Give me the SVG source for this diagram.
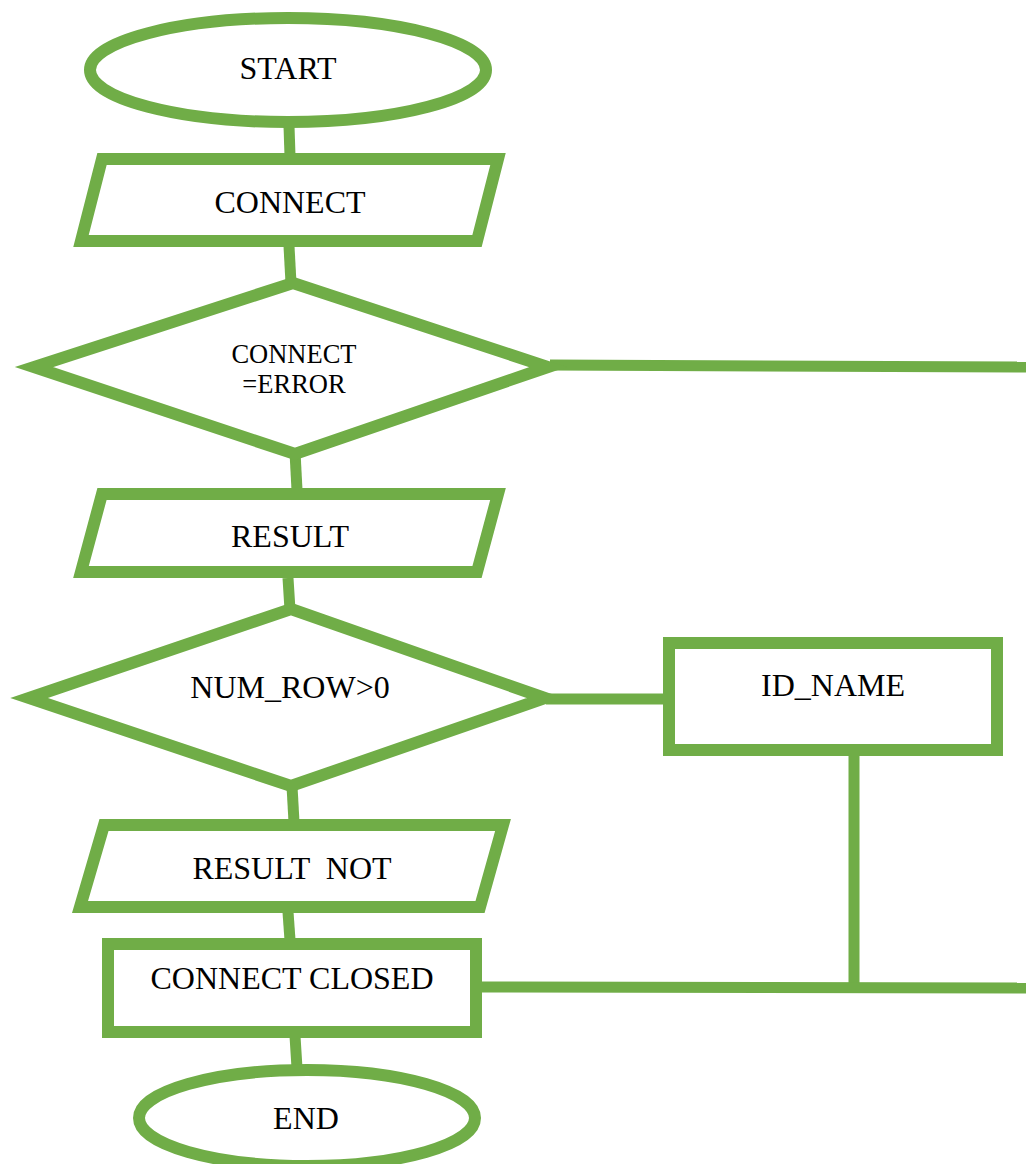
<svg xmlns="http://www.w3.org/2000/svg" width="1026" height="1164" viewBox="0 0 1026 1164">
<style>
.s{fill:#fff;stroke:#70AD47;stroke-width:12;stroke-miterlimit:10}
.c{fill:none;stroke:#70AD47;stroke-width:11}
text{font-family:"Liberation Serif","Times New Roman",serif;font-size:32px;fill:#000;text-anchor:middle}
</style>
<rect width="1026" height="1164" fill="#fff"/>
<g id="connectors">
<line class="c" x1="289" y1="126" x2="290" y2="156"/>
<line class="c" x1="289" y1="246" x2="291" y2="283"/>
<line class="c" x1="550" y1="365" x2="1026" y2="367"/>
<line class="c" x1="295" y1="452" x2="297" y2="490"/>
<line class="c" x1="288" y1="578" x2="290" y2="610"/>
<line class="c" x1="546" y1="699" x2="665" y2="699"/>
<line class="c" x1="292" y1="786" x2="294" y2="822"/>
<line class="c" x1="854" y1="754" x2="854" y2="988"/>
<line class="c" x1="288" y1="912" x2="290" y2="940"/>
<line class="c" x1="478" y1="987" x2="1026" y2="988"/>
<line class="c" x1="295" y1="1036" x2="297" y2="1068"/>
</g>
<g id="start">
<ellipse class="s" cx="288" cy="70" rx="198" ry="52"/>
<text x="288" y="79">START</text>
</g>
<g id="connect">
<polygon class="s" points="102,159 498,159 477,241 81,241"/>
<text x="290" y="213">CONNECT</text>
</g>
<g id="decision-error">
<polygon class="s" points="293,283 548,367 295,454 34,367"/>
<text x="294" y="363" style="font-size:26.5px">CONNECT</text>
<text x="294" y="393" style="font-size:26.5px">=ERROR</text>
</g>
<g id="result">
<polygon class="s" points="102,494 498,494 477,572 81,572"/>
<text x="290" y="547">RESULT</text>
</g>
<g id="decision-numrow">
<polygon class="s" points="291,609 545,698 291,786 29,698"/>
<text x="290" y="698">NUM_ROW&gt;0</text>
</g>
<g id="id-name">
<rect class="s" x="669" y="643" width="328" height="107"/>
<text x="833" y="696">ID_NAME</text>
</g>
<g id="result-not">
<polygon class="s" points="104,825 503,825 480,907 80,907"/>
<text x="292" y="879" xml:space="preserve">RESULT  NOT</text>
</g>
<g id="connect-closed">
<rect class="s" x="108" y="944" width="368" height="88"/>
<text x="292" y="989">CONNECT CLOSED</text>
</g>
<g id="end">
<ellipse class="s" cx="307" cy="1118" rx="168" ry="48"/>
<text x="306" y="1129">END</text>
</g>
</svg>
